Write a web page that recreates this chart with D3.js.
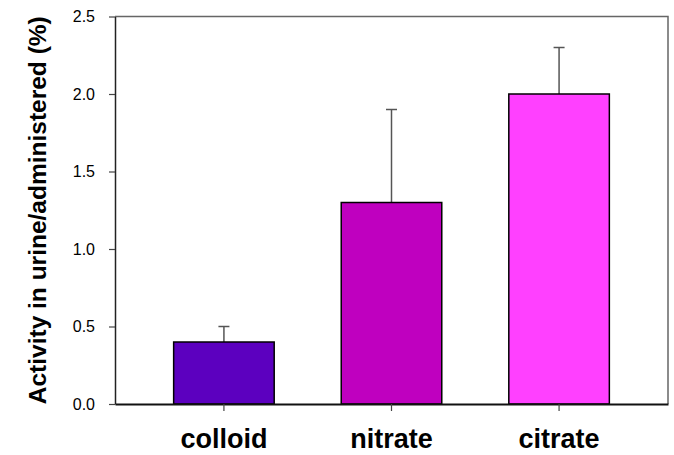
<!DOCTYPE html>
<html>
<head>
<meta charset="utf-8">
<script src="https://cdn.jsdelivr.net/npm/d3@7"></script>
<style>
  body { margin: 0; background: #fff; }
  text { font-family: Arial, "Liberation Sans", sans-serif; }
</style>
</head>
<body>
<svg id="chart"></svg>
<script>
// data
const categories = ['colloid', 'nitrate', 'citrate'];
const means = [0.4, 1.3, 2.0];
const errors = [0.1, 0.6, 0.3];
const barColors = ['#5c00bf', '#bf00bf', '#ff40ff'];
const yTicks = [0.0, 0.5, 1.0, 1.5, 2.0, 2.5];

const width = 674, height = 455;
const margin = {top: 16.5, right: 6, bottom: 51, left: 115};
const innerW = width - margin.left - margin.right;
const innerH = height - margin.top - margin.bottom;

const svg = d3.select('#chart')
    .attr('width', width)
    .attr('height', height);

const chart = svg.append('g')
    .attr('transform', `translate(${margin.left},${margin.top})`);

const x = d3.scaleBand()
    .domain(categories)
    .range([0, innerW])
    .paddingInner(0.4)
    .paddingOuter(0.35);

const y = d3.scaleLinear()
    .domain([0, 2.5])
    .range([innerH, 0]);

// frame top and right
chart.append('path')
    .attr('d', `M0,${y(2.5)}H${innerW}V${innerH}`)
    .attr('fill', 'none')
    .attr('stroke', '#666')
    .attr('stroke-width', 1.5);

const rows = categories.map((c, i) => ({cat: c, v: means[i], e: errors[i], col: barColors[i]}));

// error bars (upper only)
const eb = chart.append('g').attr('stroke', '#555').attr('stroke-width', 1.5);
eb.selectAll('.err')
    .data(rows)
  .join('line')
    .attr('x1', d => x(d.cat) + x.bandwidth() / 2)
    .attr('x2', d => x(d.cat) + x.bandwidth() / 2)
    .attr('y1', d => y(d.v))
    .attr('y2', d => y(d.v + d.e));
eb.selectAll('.cap')
    .data(rows)
  .join('line')
    .attr('x1', d => x(d.cat) + x.bandwidth() / 2 - 5.5)
    .attr('x2', d => x(d.cat) + x.bandwidth() / 2 + 5.5)
    .attr('y1', d => y(d.v + d.e))
    .attr('y2', d => y(d.v + d.e));

// bars
chart.selectAll('.bar')
    .data(rows)
  .join('rect')
    .attr('class', 'bar')
    .attr('x', d => x(d.cat))
    .attr('y', d => y(d.v))
    .attr('width', x.bandwidth())
    .attr('height', d => y(0) - y(d.v))
    .attr('fill', d => d.col)
    .attr('stroke', '#000')
    .attr('stroke-width', 1.5);

// y axis
const yAxisG = chart.append('g')
    .call(d3.axisLeft(y).tickValues(yTicks).tickFormat(d3.format('.1f')).tickSize(6).tickPadding(14).tickSizeOuter(0));
yAxisG.select('.domain').attr('stroke', '#222').attr('stroke-width', 1.5);
yAxisG.selectAll('.tick line').attr('stroke', '#444').attr('stroke-width', 1.2);
yAxisG.selectAll('.tick text')
    .attr('fill', '#000')
    .style('font-size', '16px');

// x axis
const xAxisG = chart.append('g')
    .attr('transform', `translate(0,${innerH})`)
    .call(d3.axisBottom(x).tickSize(7).tickPadding(18).tickSizeOuter(0));
xAxisG.select('.domain').attr('stroke', '#111').attr('stroke-width', 2);
xAxisG.selectAll('.tick line').attr('stroke', '#444').attr('stroke-width', 1.2);
xAxisG.selectAll('.tick text')
    .attr('fill', '#000')
    .style('font-size', '27px')
    .style('font-weight', 'bold');

// y axis title
svg.append('text')
    .attr('transform', `translate(46,${margin.top + innerH / 2}) rotate(-90)`)
    .attr('text-anchor', 'middle')
    .style('font-size', '24.5px')
    .style('font-weight', 'bold')
    .text('Activity in urine/administered (%)');
</script>
</body>
</html>
